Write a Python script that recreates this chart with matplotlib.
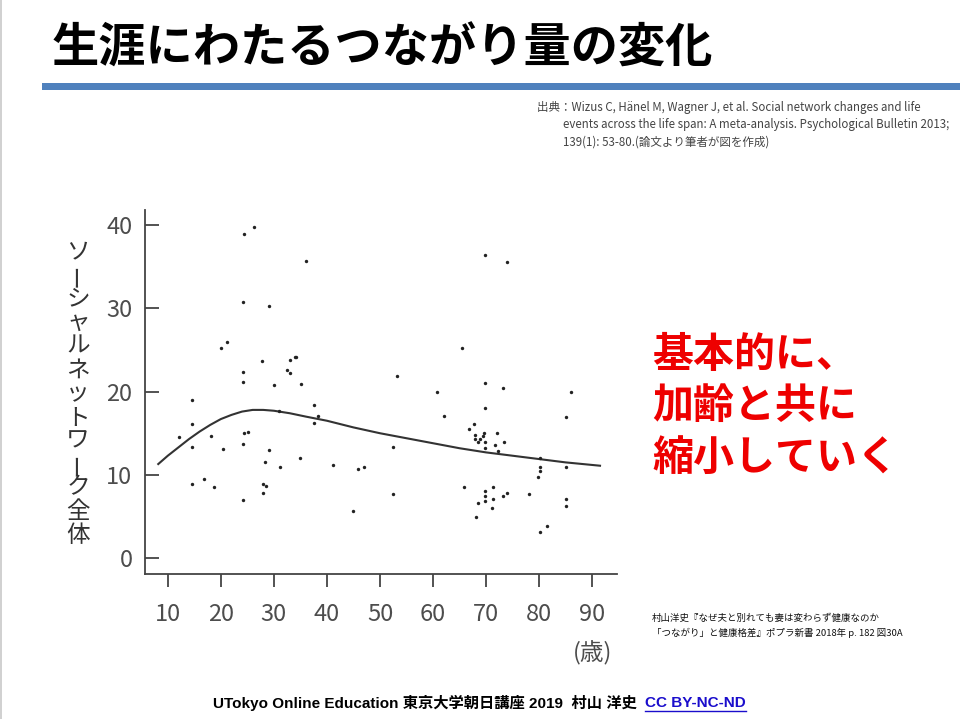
import matplotlib
matplotlib.use('Agg')
import matplotlib.pyplot as plt
from matplotlib.patches import Rectangle
from matplotlib.lines import Line2D

plt.rcParams['font.family'] = ['Noto Sans CJK JP', 'DejaVu Sans']

# scatter points (age, social network size)
ages = [26.2, 24.3, 36.1, 24.1, 29.0, 21.1, 20.1, 27.7, 33.0, 34.0, 34.2, 32.5, 33.0,
        24.1, 24.1, 30.1, 35.1,
        14.6, 31.0, 14.6, 12.1, 18.1, 24.4, 25.2, 14.6, 20.4, 24.1, 29.0, 28.4, 31.1,
        34.9, 14.6, 16.8, 18.8, 28.0, 28.5, 28.0, 24.1,
        53.3, 60.7, 37.5, 38.3, 37.5, 62.0, 52.4, 41.2, 45.9, 47.0, 52.4, 45.0,
        69.8, 74.0, 65.5, 69.8, 73.2, 86.1, 69.8, 85.0, 67.7, 66.8, 68.0, 68.0, 69.6,
        69.4, 68.9, 68.5, 72.0, 69.8, 71.7, 73.4, 69.8, 72.3, 80.1, 80.1, 80.1, 85.0,
        79.8, 65.8, 71.4, 69.8, 69.8, 71.4, 69.8, 73.2, 73.9, 78.1, 68.5, 71.2, 68.1,
        85.0, 85.0, 81.5, 80.1]
network = [39.7, 38.9, 35.7, 30.8, 30.3, 26.0, 25.2, 23.7, 23.8, 24.1, 24.2, 22.6, 22.2,
           22.3, 21.2, 20.8, 20.9,
           19.0, 17.7, 16.1, 14.5, 14.7, 15.0, 15.1, 13.4, 13.1, 13.7, 13.0, 11.6, 11.0,
           12.0, 8.9, 9.5, 8.5, 8.9, 8.7, 7.8, 7.0,
           21.9, 19.9, 18.4, 17.1, 16.2, 17.1, 13.4, 11.2, 10.7, 10.9, 7.7, 5.7,
           36.4, 35.5, 25.2, 21.0, 20.4, 19.9, 18.0, 17.0, 16.1, 15.5, 14.8, 14.3, 15.0,
           14.7, 14.3, 14.0, 15.0, 13.9, 13.6, 13.9, 13.2, 12.9, 12.0, 11.0, 10.5, 10.9,
           9.7, 8.6, 8.6, 8.1, 7.5, 7.1, 6.9, 7.5, 7.8, 7.7, 6.6, 6.0, 5.0,
           7.1, 6.3, 3.9, 3.2]

# fitted trajectory
curve_age = [8.2, 10, 12, 14, 16, 18, 20, 22, 24, 26, 28, 30, 33, 36, 40, 45, 50,
             55, 60, 65, 70, 75, 80, 85, 91.5]
curve_val = [11.3, 12.3, 13.3, 14.3, 15.2, 16.0, 16.7, 17.2, 17.6, 17.8, 17.8, 17.7,
             17.4, 17.0, 16.5, 15.7, 15.0, 14.4, 13.8, 13.2, 12.7, 12.3, 11.9, 11.5, 11.1]

xticks = [10, 20, 30, 40, 50, 60, 70, 80, 90]
yticks = [0, 10, 20, 30, 40]
ylabel_chars = list('ソーシャルネットワーク全体')

title = '生涯にわたるつながり量の変化'
message = '基本的に、\n加齢と共に\n縮小していく'
source_lines = ['出典：Wizus C, Hänel M, Wagner J, et al. Social network changes and life',
                'events across the life span: A meta-analysis. Psychological Bulletin 2013;',
                '139(1): 53-80.(論文より筆者が図を作成)']
book_lines = ['村山洋史『なぜ夫と別れても妻は変わらず健康なのか',
              '「つながり」と健康格差』ポプラ新書 2018年 p. 182 図30A']
footer = 'UTokyo Online Education 東京大学朝日講座 2019  村山 洋史  '
footer_link = 'CC BY-NC-ND'

W, H = 960, 719
fig = plt.figure(figsize=(9.6, 7.19), dpi=100)

def fx(px):
    return px / W

def fy(py):
    return 1 - py / H

# slide decorations
fig.add_artist(Rectangle((fx(42), fy(90)), fx(960) - fx(42), fy(83) - fy(90),
                         transform=fig.transFigure, color='#4f81bd', lw=0))
fig.add_artist(Line2D([fx(1), fx(1)], [0, 1], transform=fig.transFigure,
                      color='#c8c8c8', lw=1.2))
fig.text(fx(52), fy(49), title, fontsize=34, fontweight='bold', va='center', ha='left')

for i, line in enumerate(source_lines):
    fig.text(fx(537 if i == 0 else 563), fy(107 + i * 17.5), line, fontsize=8.3,
             color='#444444', va='center', ha='left')

# chart
ax = fig.add_axes([fx(145), fy(574), fx(617) - fx(145), fy(210) - fy(574)])
ax.scatter(ages, network, s=6, color='#222222', lw=0, zorder=3)
ax.plot(curve_age, curve_val, color='#333333', lw=1.5)
ax.set_xlim(5.7, 94.7)
ax.set_ylim(-1.9, 41.8)
ax.set_xticks(xticks)
ax.set_yticks(yticks)
for s in ['top', 'right']:
    ax.spines[s].set_visible(False)
for s in ['left', 'bottom']:
    ax.spines[s].set_color('#444444')
    ax.spines[s].set_linewidth(1.3)
ax.tick_params(axis='y', direction='in', length=10, width=1.3, color='#444444',
               labelsize=17, labelcolor='#4d4d4d', pad=9)
ax.tick_params(axis='x', direction='out', length=9, width=1.3, color='#444444',
               labelsize=17, labelcolor='#4d4d4d', pad=12)

fig.text(fx(612), fy(653), '(歳)', fontsize=17, color='#4d4d4d', ha='right', va='center')

for i, ch in enumerate(ylabel_chars):
    fig.text(fx(78), fy(252 + i * 23.6), ch, fontsize=17, color='#333333',
             ha='center', va='center', rotation=90 if ch == 'ー' else 0)

# message
fig.text(fx(652), fy(334), message, fontsize=29.5, fontweight='bold', color='#ee0000',
         ha='left', va='top', linespacing=1.28)

for i, line in enumerate(book_lines):
    fig.text(fx(652), fy(618 + i * 15), line, fontsize=6.8, color='#111111',
             ha='left', va='center')

# footer
ft = fig.text(fx(213), fy(703), footer, fontsize=11, fontweight='bold',
              family=['Liberation Sans', 'Noto Sans CJK JP'], ha='left', va='center')
fig.canvas.draw()
bb = ft.get_window_extent()
lk = fig.text(bb.x1 / W, fy(703), footer_link, fontsize=11, fontweight='bold',
              family=['Liberation Sans'], color='#1a0dcc', ha='left', va='center')
fig.canvas.draw()
lb = lk.get_window_extent()
fig.add_artist(Line2D([lb.x0 / W, lb.x1 / W], [fy(711), fy(711)],
                      transform=fig.transFigure, color='#1a0dcc', lw=1))

fig.savefig('out.png', dpi=100)
